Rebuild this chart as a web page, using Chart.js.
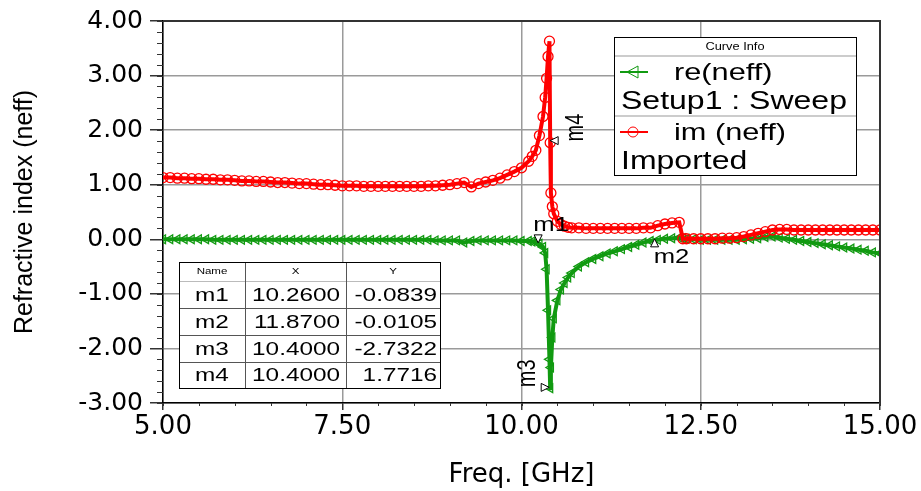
<!DOCTYPE html>
<html>
<head>
<meta charset="utf-8">
<script src="https://cdn.jsdelivr.net/npm/chart.js@4"></script>
<style>
  html, body { margin: 0; padding: 0; background: #fff; }
</style>
</head>
<body>
<canvas id="my-chart" width="921" height="491"></canvas>
<script>
// frequency points (GHz), shared by both curves
const freqGHz = [
  5.0, 5.1, 5.2, 5.3, 5.4, 5.5, 5.6, 5.7, 5.8, 5.9,
  6.0, 6.1, 6.2, 6.3, 6.4, 6.5, 6.6, 6.7, 6.8, 6.9,
  7.0, 7.1, 7.2, 7.3, 7.4, 7.5, 7.6, 7.7, 7.8, 7.9,
  8.0, 8.1, 8.2, 8.3, 8.4, 8.5, 8.6, 8.7, 8.8, 8.9,
  9.0, 9.1, 9.2, 9.3, 9.4, 9.5, 9.6, 9.7, 9.8, 9.9,
  10.0, 10.1, 10.15, 10.2, 10.25, 10.3, 10.33, 10.35, 10.37, 10.39, 10.4, 10.41, 10.43, 10.45, 10.5, 10.55, 10.6, 10.65, 10.7, 10.8, 10.9,
  11.0, 11.1, 11.2, 11.3, 11.4, 11.5, 11.6, 11.7, 11.8, 11.9,
  12.0, 12.1, 12.2, 12.25, 12.3, 12.4, 12.5, 12.6, 12.7, 12.8, 12.9,
  13.0, 13.1, 13.2, 13.3, 13.4, 13.5, 13.6, 13.7, 13.8, 13.9,
  14.0, 14.1, 14.2, 14.3, 14.4, 14.5, 14.6, 14.7, 14.8, 14.9,
  15.0
];

// re(neff)  Setup1 : Sweep
const reNeff = [
  0.00, 0.00, 0.00, 0.00, 0.00, 0.00, 0.00, -0.01, -0.01, -0.01,
  -0.01, -0.01, -0.01, -0.01, -0.01, -0.01, -0.01, -0.01, -0.01, -0.01,
  -0.01, -0.01, -0.01, -0.01, -0.01, -0.01, -0.01, -0.01, -0.01, -0.01,
  -0.01, -0.01, -0.01, -0.01, -0.01, -0.01, -0.01, -0.01, -0.02, -0.02,
  -0.02, -0.02, -0.06, -0.03, -0.02, -0.02, -0.02, -0.02, -0.02, -0.02,
  -0.03, -0.03, -0.04, -0.05, -0.08, -0.14, -0.25, -0.55, -1.30, -2.20, -2.73, -2.35, -1.80, -1.45, -1.12, -0.92, -0.80, -0.70, -0.62, -0.50, -0.42,
  -0.36, -0.31, -0.26, -0.22, -0.18, -0.14, -0.10, -0.06, -0.03, -0.01,
  0.01, 0.02, 0.03, 0.02, 0.01, 0.00, -0.01, -0.01, -0.01, -0.01, -0.01,
  -0.01, 0.00, 0.01, 0.02, 0.04, 0.05, 0.03, 0.01, -0.01, -0.03,
  -0.05, -0.07, -0.09, -0.11, -0.13, -0.15, -0.17, -0.19, -0.21, -0.24,
  -0.26
];

// im (neff)  Imported
const imNeff = [
  1.13, 1.13, 1.12, 1.12, 1.11, 1.11, 1.10, 1.10, 1.09, 1.09,
  1.08, 1.07, 1.07, 1.06, 1.06, 1.05, 1.04, 1.04, 1.03, 1.02,
  1.02, 1.01, 1.00, 1.00, 0.99, 0.98, 0.98, 0.98, 0.97, 0.97,
  0.97, 0.97, 0.97, 0.97, 0.97, 0.97, 0.97, 0.98, 0.98, 0.99,
  1.00, 1.02, 1.04, 0.96, 1.02, 1.05, 1.08, 1.12, 1.18, 1.24,
  1.31, 1.43, 1.52, 1.63, 1.90, 2.25, 2.60, 2.95, 3.35, 3.63, 1.77, 0.85, 0.60, 0.47, 0.33, 0.27, 0.24, 0.22, 0.21, 0.21, 0.20,
  0.20, 0.20, 0.20, 0.20, 0.20, 0.20, 0.20, 0.21, 0.21, 0.25,
  0.28, 0.30, 0.31, 0.01, 0.01, 0.01, 0.01, 0.01, 0.01, 0.02, 0.02,
  0.03, 0.05, 0.08, 0.11, 0.14, 0.17, 0.18, 0.18, 0.17, 0.17,
  0.17, 0.17, 0.17, 0.17, 0.17, 0.17, 0.17, 0.17, 0.17, 0.17,
  0.17
];

// marker table
const markerNames = ['m1', 'm2', 'm3', 'm4'];
const markerX = [10.26, 11.87, 10.40, 10.40];
const markerY = [-0.0839, -0.0105, -2.7322, 1.7716];

const xTicks = [5, 7.5, 10, 12.5, 15];
const yTicks = [-3, -2, -1, 0, 1, 2, 3, 4];

const GREEN = '#119a11';
const RED = '#ff0000';
const SX = 1.28; // the reference is drawn horizontally stretched

function wideText(ctx, text, x, y, size, align, rotated) {
  ctx.save();
  ctx.translate(x, y);
  ctx.scale(SX, 1);
  if (rotated) ctx.rotate(-Math.PI / 2);
  ctx.font = size + 'px "Liberation Sans", Arial, sans-serif';
  ctx.textAlign = align;
  ctx.textBaseline = 'middle';
  ctx.fillStyle = '#000';
  ctx.fillText(text, 0, 0);
  ctx.restore();
}

function pointer(ctx, px, py, dir) {
  const s = 4;
  const pts = {
    down: [[0, s], [-s, -s], [s, -s]],
    up: [[0, -s], [-s, s], [s, s]],
    left: [[-s, 0], [s, -s], [s, s]],
    right: [[s, 0], [-s, -s], [-s, s]]
  }[dir];
  ctx.beginPath();
  ctx.moveTo(px + pts[0][0], py + pts[0][1]);
  ctx.lineTo(px + pts[1][0], py + pts[1][1]);
  ctx.lineTo(px + pts[2][0], py + pts[2][1]);
  ctx.closePath();
  ctx.fillStyle = '#fff';
  ctx.fill();
  ctx.strokeStyle = '#000';
  ctx.lineWidth = 1;
  ctx.stroke();
}

// where the pointer and the name sit relative to each marker point
const markerLook = [
  { dir: 'down', dx: -2, dy: -5, lx: 11, ly: -18, rot: false },
  { dir: 'up', dx: -1, dy: 3, lx: 16, ly: 18, rot: false },
  { dir: 'right', dx: -5, dy: -1, lx: -22, ly: -15, rot: true },
  { dir: 'left', dx: 4, dy: -2, lx: 26, ly: -15, rot: true }
];

const extras = {
  id: 'extras',
  afterDraw(chart) {
    const { ctx, chartArea: a, scales: { x, y } } = chart;
    ctx.save();

    // top and right frame
    ctx.strokeStyle = '#333';
    ctx.lineWidth = 2;
    ctx.beginPath();
    ctx.moveTo(a.left, a.top);
    ctx.lineTo(a.right, a.top);
    ctx.lineTo(a.right, a.bottom);
    ctx.stroke();

    // minor ticks
    ctx.strokeStyle = '#333';
    ctx.lineWidth = 1;
    ctx.beginPath();
    for (let i = 0; i <= 35; i++) {
      const py = Math.round(y.getPixelForValue(-3 + i * 0.2)) + 0.5;
      ctx.moveTo(a.left - 6, py);
      ctx.lineTo(a.left, py);
    }
    for (let i = 0; i <= 20; i++) {
      const px = Math.round(x.getPixelForValue(5 + i * 0.5)) + 0.5;
      ctx.moveTo(px, a.bottom);
      ctx.lineTo(px, a.bottom + 3);
    }
    ctx.stroke();

    // markers
    markerNames.forEach((name, i) => {
      const px = x.getPixelForValue(markerX[i]);
      const py = y.getPixelForValue(markerY[i]);
      const m = markerLook[i];
      pointer(ctx, px + m.dx, py + m.dy, m.dir);
      wideText(ctx, name, px + m.lx, py + m.ly, 20, 'center', m.rot);
    });

    // marker table
    const tx = [a.left + 16, a.left + 82, a.left + 183, a.left + 277];
    const ty = [262, 281, 308, 335, 362, 388];
    ctx.fillStyle = '#fff';
    ctx.fillRect(tx[0], ty[0], tx[3] - tx[0], ty[5] - ty[0]);
    ctx.lineWidth = 1;
    ctx.strokeStyle = '#bbb';
    ctx.beginPath();
    ctx.moveTo(tx[0], ty[1] + 0.5); ctx.lineTo(tx[3], ty[1] + 0.5);
    ctx.stroke();
    ctx.strokeStyle = '#555';
    ctx.beginPath();
    for (let r = 2; r < 5; r++) { ctx.moveTo(tx[0], ty[r] + 0.5); ctx.lineTo(tx[3], ty[r] + 0.5); }
    ctx.moveTo(tx[1] + 0.5, ty[0]); ctx.lineTo(tx[1] + 0.5, ty[5]);
    ctx.moveTo(tx[2] + 0.5, ty[0]); ctx.lineTo(tx[2] + 0.5, ty[5]);
    ctx.stroke();
    ctx.strokeStyle = '#000';
    ctx.strokeRect(tx[0] + 0.5, ty[0] + 0.5, tx[3] - tx[0], ty[5] - ty[0]);
    const hy = (ty[0] + ty[1]) / 2;
    wideText(ctx, 'Name', (tx[0] + tx[1]) / 2, hy, 9, 'center');
    wideText(ctx, 'X', (tx[1] + tx[2]) / 2, hy, 9, 'center');
    wideText(ctx, 'Y', (tx[2] + tx[3]) / 2, hy, 9, 'center');
    markerNames.forEach((name, i) => {
      const ry = (ty[i + 1] + ty[i + 2]) / 2 + 1;
      wideText(ctx, name, (tx[0] + tx[1]) / 2, ry, 19, 'center');
      wideText(ctx, markerX[i].toFixed(4), tx[2] - 6, ry, 19, 'right');
      wideText(ctx, markerY[i].toFixed(4), tx[3] - 3, ry, 19, 'right');
    });

    // curve info box
    const lx = 614, lt = 37, lr = 856, lb = 175;
    ctx.fillStyle = '#fff';
    ctx.fillRect(lx, lt, lr - lx, lb - lt);
    ctx.strokeStyle = '#ccc';
    ctx.lineWidth = 2;
    ctx.beginPath();
    ctx.moveTo(lx, 56); ctx.lineTo(lr, 56);
    ctx.moveTo(lx, 116); ctx.lineTo(lr, 116);
    ctx.stroke();
    ctx.strokeStyle = '#000';
    ctx.lineWidth = 1;
    ctx.strokeRect(lx + 0.5, lt + 0.5, lr - lx, lb - lt);
    wideText(ctx, 'Curve Info', (lx + lr) / 2, 47, 10, 'center');

    ctx.lineWidth = 2;
    ctx.strokeStyle = GREEN;
    ctx.beginPath(); ctx.moveTo(620, 72); ctx.lineTo(648, 72); ctx.stroke();
    ctx.lineWidth = 1;
    ctx.beginPath();
    ctx.moveTo(627, 72); ctx.lineTo(638, 66); ctx.lineTo(638, 78); ctx.closePath();
    ctx.stroke();
    wideText(ctx, 're(neff)', 674, 73, 24, 'left');
    wideText(ctx, 'Setup1 : Sweep', 621, 102, 25, 'left');

    ctx.lineWidth = 2;
    ctx.strokeStyle = RED;
    ctx.beginPath(); ctx.moveTo(620, 132); ctx.lineTo(648, 132); ctx.stroke();
    ctx.lineWidth = 1;
    ctx.beginPath(); ctx.arc(633, 132, 5, 0, Math.PI * 2); ctx.stroke();
    wideText(ctx, 'im (neff)', 674, 133, 24, 'left');
    wideText(ctx, 'Imported', 621, 162, 25, 'left');

    ctx.restore();
  }
};

const ctx = document.getElementById('my-chart').getContext('2d');
const myChart = new Chart(ctx, {
  type: 'line',
  data: {
    datasets: [{
      label: 're(neff)',
      data: freqGHz.map((f, i) => ({ x: f, y: reNeff[i] })),
      borderColor: GREEN,
      borderWidth: 4,
      pointStyle: 'triangle',
      pointRotation: -90,
      pointRadius: 5,
      pointBorderWidth: 1.3,
      pointBorderColor: GREEN,
      pointBackgroundColor: 'rgba(0,0,0,0)',
      tension: 0,
      order: 2
    }, {
      label: 'im (neff)',
      data: freqGHz.map((f, i) => ({ x: f, y: imNeff[i] })),
      borderColor: RED,
      borderWidth: 4,
      pointStyle: 'circle',
      pointRadius: 5,
      pointBorderWidth: 1.3,
      pointBorderColor: RED,
      pointBackgroundColor: 'rgba(0,0,0,0)',
      tension: 0,
      order: 1
    }]
  },
  options: {
    responsive: false,
    animation: false,
    devicePixelRatio: 1,
    layout: { padding: { top: 21, right: 41, left: 0, bottom: 0 } },
    plugins: {
      legend: { display: false },
      tooltip: { enabled: false }
    },
    scales: {
      x: {
        type: 'linear',
        min: 5,
        max: 15,
        afterBuildTicks: s => { s.ticks = xTicks.map(v => ({ value: v })); },
        afterFit: s => { s.height = 88; s.paddingLeft = 0; s.paddingRight = 0; },
        ticks: {
          callback: v => v.toFixed(2),
          color: '#000',
          padding: 2,
          maxRotation: 0,
          autoSkip: false,
          font: { family: '"DejaVu Sans"', size: 26 }
        },
        grid: { color: '#9a9a9a', lineWidth: 1.5, tickLength: 7, tickColor: '#333' },
        border: { color: '#000', width: 1.5 },
        title: {
          display: true,
          text: 'Freq. [GHz]',
          color: '#000',
          padding: { top: 0, bottom: 0 },
          font: { family: '"DejaVu Sans"', size: 26 }
        }
      },
      y: {
        min: -3,
        max: 4,
        afterBuildTicks: s => { s.ticks = yTicks.map(v => ({ value: v })); },
        afterFit: s => { s.width = 163; s.paddingTop = 0; s.paddingBottom = 0; },
        ticks: {
          callback: v => v.toFixed(2),
          color: '#000',
          padding: 7,
          font: { family: '"DejaVu Sans"', size: 25 }
        },
        grid: { color: '#9a9a9a', lineWidth: 1.5, tickLength: 13, tickColor: '#333' },
        border: { color: '#000', width: 1.5 },
        title: {
          display: true,
          text: 'Refractive index (neff)',
          color: '#000',
          padding: { top: 10, bottom: 0 },
          font: { family: '"Liberation Sans", Arial', size: 25 }
        }
      }
    }
  },
  plugins: [extras]
});
</script>
</body>
</html>
